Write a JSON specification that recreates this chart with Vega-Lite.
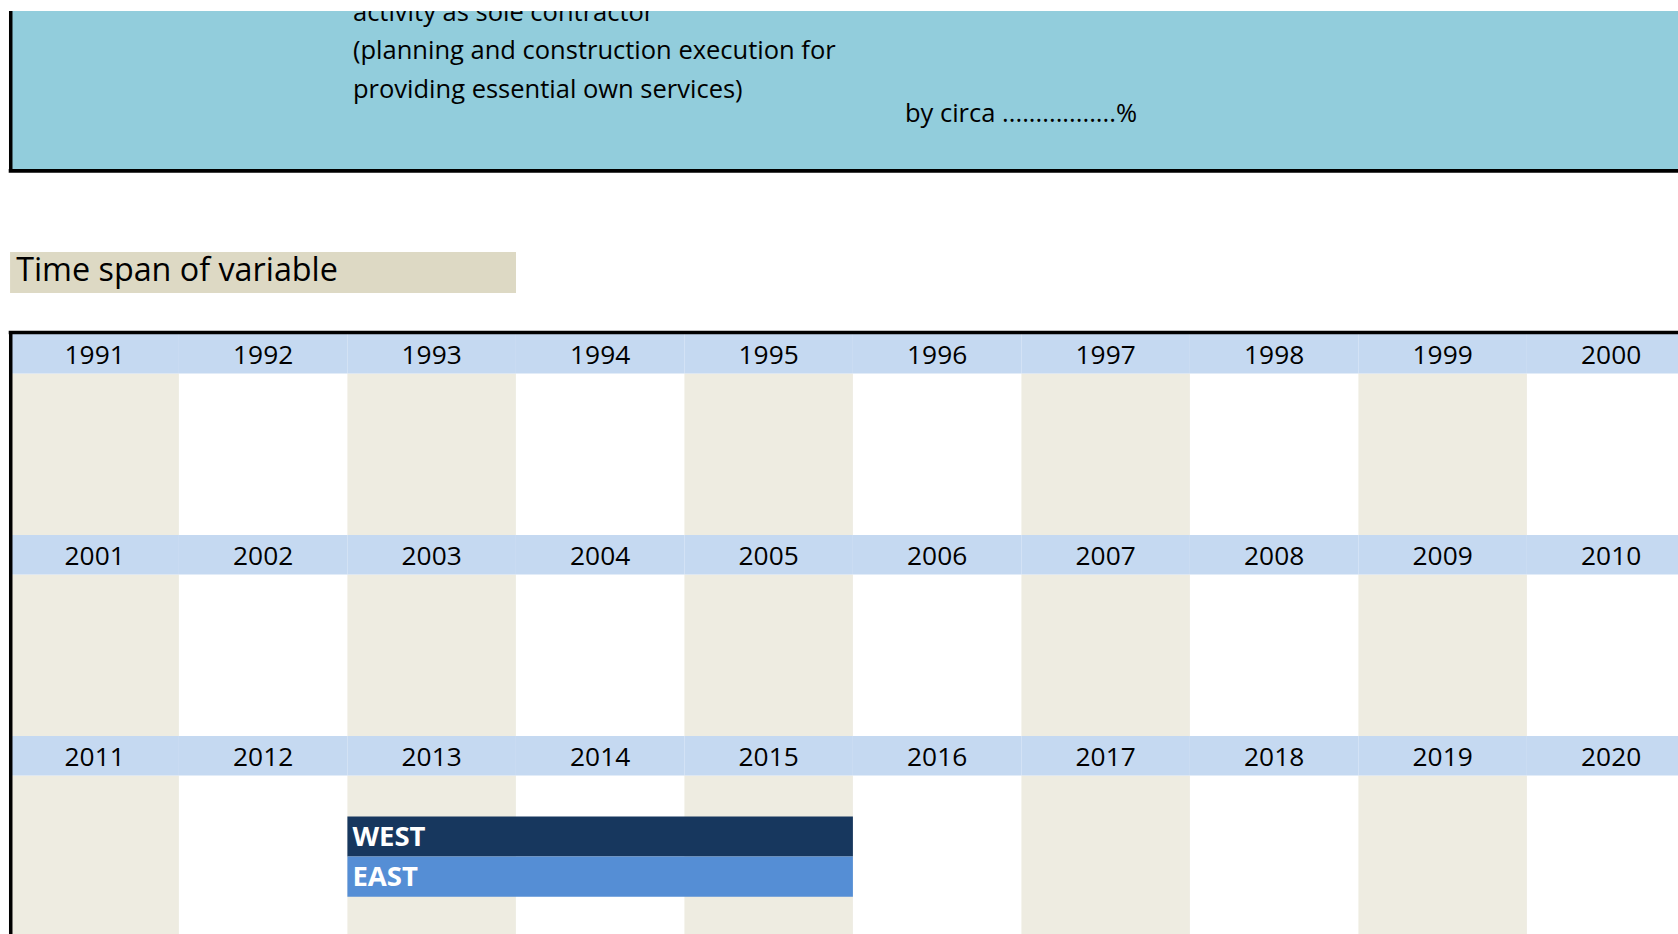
{
  "$schema": "https://vega.github.io/schema/vega-lite/v6.json",
  "width": 1678,
  "height": 934,
  "autosize": {"type": "fit", "contains": "padding"},
  "padding": {"top": 11, "left": 0, "right": 0, "bottom": 0},
  "background": "white",
  "config": {"view": {"stroke": null}, "font": "Open Sans"},
  "datasets": {
    "years": [
      {"year": 1991}, {"year": 1992}, {"year": 1993}, {"year": 1994}, {"year": 1995},
      {"year": 1996}, {"year": 1997}, {"year": 1998}, {"year": 1999}, {"year": 2000},
      {"year": 2001}, {"year": 2002}, {"year": 2003}, {"year": 2004}, {"year": 2005},
      {"year": 2006}, {"year": 2007}, {"year": 2008}, {"year": 2009}, {"year": 2010},
      {"year": 2011}, {"year": 2012}, {"year": 2013}, {"year": 2014}, {"year": 2015},
      {"year": 2016}, {"year": 2017}, {"year": 2018}, {"year": 2019}, {"year": 2020}
    ],
    "spans": [
      {"region": "WEST", "from": 2013, "to": 2015},
      {"region": "EAST", "from": 2013, "to": 2015}
    ],
    "note": [
      {"label": "activity as sole contractor\n(planning and construction execution for\nproviding essential own services)", "value": "by circa .................%", "title": "Time span of variable"}
    ]
  },
  "layer": [
    {
      "data": {"name": "note"},
      "mark": {"type": "rect", "color": "#92cddc", "clip": true},
      "encoding": {
        "x": {"datum": 0, "type": "quantitative", "scale": {"type": "linear", "domain": [-0.06172, 9.8967], "nice": false, "zero": false}, "axis": null},
        "x2": {"datum": 10.5},
        "y": {"datum": -1.7, "type": "quantitative", "scale": {"type": "linear", "domain": [-1.60697, 2.98507], "nice": false, "zero": false, "reverse": true}, "axis": null},
        "y2": {"datum": -0.8114}
      }
    },
    {
      "data": {"name": "note"},
      "mark": {"type": "text", "align": "left", "baseline": "top", "fontSize": 25.5, "lineBreak": "\n", "lineHeight": 38.4, "color": "black", "clip": true},
      "encoding": {
        "x": {"datum": 2.033, "type": "quantitative", "scale": {"type": "linear", "domain": [-0.06172, 9.8967], "nice": false, "zero": false}, "axis": null},
        "y": {"datum": -1.6567, "type": "quantitative", "scale": {"type": "linear", "domain": [-1.60697, 2.98507], "nice": false, "zero": false, "reverse": true}, "axis": null},
        "text": {"field": "label"}
      }
    },
    {
      "data": {"name": "note"},
      "mark": {"type": "text", "align": "left", "baseline": "alphabetic", "fontSize": 25.5, "color": "black"},
      "encoding": {
        "x": {"datum": 5.309, "type": "quantitative", "scale": {"type": "linear", "domain": [-0.06172, 9.8967], "nice": false, "zero": false}, "axis": null},
        "y": {"datum": -1.0572, "type": "quantitative", "scale": {"type": "linear", "domain": [-1.60697, 2.98507], "nice": false, "zero": false, "reverse": true}, "axis": null},
        "text": {"field": "value"}
      }
    },
    {
      "data": {"name": "note"},
      "mark": {"type": "rule", "color": "black", "strokeWidth": 3.6, "clip": true},
      "encoding": {
        "x": {"datum": -0.01, "type": "quantitative", "scale": {"type": "linear", "domain": [-0.06172, 9.8967], "nice": false, "zero": false}, "axis": null},
        "x2": {"datum": 10.5},
        "y": {"datum": -0.8114, "type": "quantitative", "scale": {"type": "linear", "domain": [-1.60697, 2.98507], "nice": false, "zero": false, "reverse": true}, "axis": null}
      }
    },
    {
      "data": {"name": "note"},
      "mark": {"type": "rule", "color": "black", "strokeWidth": 3.5, "clip": true},
      "encoding": {
        "x": {"datum": 0.002, "type": "quantitative", "scale": {"type": "linear", "domain": [-0.06172, 9.8967], "nice": false, "zero": false}, "axis": null},
        "y": {"datum": -1.7, "type": "quantitative", "scale": {"type": "linear", "domain": [-1.60697, 2.98507], "nice": false, "zero": false, "reverse": true}, "axis": null},
        "y2": {"datum": -0.8114}
      }
    },
    {
      "data": {"name": "note"},
      "mark": {"type": "rect", "color": "#ddd9c4"},
      "encoding": {
        "x": {"datum": -0.002, "type": "quantitative", "scale": {"type": "linear", "domain": [-0.06172, 9.8967], "nice": false, "zero": false}, "axis": null},
        "x2": {"datum": 3.0006},
        "y": {"datum": -0.408, "type": "quantitative", "scale": {"type": "linear", "domain": [-1.60697, 2.98507], "nice": false, "zero": false, "reverse": true}, "axis": null},
        "y2": {"datum": -0.204}
      }
    },
    {
      "data": {"name": "note"},
      "mark": {"type": "text", "align": "left", "baseline": "alphabetic", "fontSize": 32.3, "color": "black"},
      "encoding": {
        "x": {"datum": 0.034, "type": "quantitative", "scale": {"type": "linear", "domain": [-0.06172, 9.8967], "nice": false, "zero": false}, "axis": null},
        "y": {"datum": -0.2637, "type": "quantitative", "scale": {"type": "linear", "domain": [-1.60697, 2.98507], "nice": false, "zero": false, "reverse": true}, "axis": null},
        "text": {"field": "title"}
      }
    },
    {
      "data": {"name": "years"},
      "transform": [
        {"calculate": "(datum.year - 1991) % 10", "as": "col"},
        {"calculate": "floor((datum.year - 1991) / 10)", "as": "row"},
        {"filter": "datum.col % 2 == 0"},
        {"calculate": "datum.col + 1", "as": "col2"},
        {"calculate": "datum.row + 0.197", "as": "top"},
        {"calculate": "datum.row + 1", "as": "bottom"}
      ],
      "mark": {"type": "rect", "color": "#eeece1", "clip": true},
      "encoding": {
        "x": {"field": "col", "type": "quantitative", "scale": {"type": "linear", "domain": [-0.06172, 9.8967], "nice": false, "zero": false}, "axis": null},
        "x2": {"field": "col2"},
        "y": {"field": "top", "type": "quantitative", "scale": {"type": "linear", "domain": [-1.60697, 2.98507], "nice": false, "zero": false, "reverse": true}, "axis": null},
        "y2": {"field": "bottom"}
      }
    },
    {
      "data": {"name": "years"},
      "transform": [
        {"calculate": "(datum.year - 1991) % 10", "as": "col"},
        {"calculate": "floor((datum.year - 1991) / 10)", "as": "row"},
        {"calculate": "datum.col + 1", "as": "col2"},
        {"calculate": "datum.row + 0.197", "as": "bottom"}
      ],
      "mark": {"type": "rect", "color": "#c5d9f1", "clip": true},
      "encoding": {
        "x": {"field": "col", "type": "quantitative", "scale": {"type": "linear", "domain": [-0.06172, 9.8967], "nice": false, "zero": false}, "axis": null},
        "x2": {"field": "col2"},
        "y": {"field": "row", "type": "quantitative", "scale": {"type": "linear", "domain": [-1.60697, 2.98507], "nice": false, "zero": false, "reverse": true}, "axis": null},
        "y2": {"field": "bottom"}
      }
    },
    {
      "data": {"name": "years"},
      "transform": [
        {"calculate": "(datum.year - 1991) % 10 + 0.5", "as": "mid"},
        {"calculate": "floor((datum.year - 1991) / 10) + 0.148", "as": "base"}
      ],
      "mark": {"type": "text", "align": "center", "baseline": "alphabetic", "fontSize": 26.3, "color": "black", "clip": true},
      "encoding": {
        "x": {"field": "mid", "type": "quantitative", "scale": {"type": "linear", "domain": [-0.06172, 9.8967], "nice": false, "zero": false}, "axis": null},
        "y": {"field": "base", "type": "quantitative", "scale": {"type": "linear", "domain": [-1.60697, 2.98507], "nice": false, "zero": false, "reverse": true}, "axis": null},
        "text": {"field": "year", "type": "nominal"}
      }
    },
    {
      "data": {"name": "note"},
      "mark": {"type": "rule", "color": "black", "strokeWidth": 3.4, "clip": true},
      "encoding": {
        "x": {"datum": -0.01, "type": "quantitative", "scale": {"type": "linear", "domain": [-0.06172, 9.8967], "nice": false, "zero": false}, "axis": null},
        "x2": {"datum": 10.5},
        "y": {"datum": -0.0075, "type": "quantitative", "scale": {"type": "linear", "domain": [-1.60697, 2.98507], "nice": false, "zero": false, "reverse": true}, "axis": null}
      }
    },
    {
      "data": {"name": "note"},
      "mark": {"type": "rule", "color": "black", "strokeWidth": 3.5, "clip": true},
      "encoding": {
        "x": {"datum": 0.002, "type": "quantitative", "scale": {"type": "linear", "domain": [-0.06172, 9.8967], "nice": false, "zero": false}, "axis": null},
        "y": {"datum": -0.0155, "type": "quantitative", "scale": {"type": "linear", "domain": [-1.60697, 2.98507], "nice": false, "zero": false, "reverse": true}, "axis": null},
        "y2": {"datum": 3.2}
      }
    },
    {
      "data": {"name": "spans"},
      "transform": [
        {"window": [{"op": "row_number", "as": "lane"}]},
        {"calculate": "(datum.from - 1991) % 10", "as": "c1"},
        {"calculate": "(datum.to - 1991) % 10 + 1", "as": "c2"},
        {"calculate": "floor((datum.from - 1991) / 10) + 0.2 + 0.2 * datum.lane", "as": "top"},
        {"calculate": "datum.top + 0.2", "as": "bottom"}
      ],
      "mark": {"type": "rect", "clip": true},
      "encoding": {
        "x": {"field": "c1", "type": "quantitative", "scale": {"type": "linear", "domain": [-0.06172, 9.8967], "nice": false, "zero": false}, "axis": null},
        "x2": {"field": "c2"},
        "y": {"field": "top", "type": "quantitative", "scale": {"type": "linear", "domain": [-1.60697, 2.98507], "nice": false, "zero": false, "reverse": true}, "axis": null},
        "y2": {"field": "bottom"},
        "color": {"field": "region", "type": "nominal", "scale": {"domain": ["WEST", "EAST"], "range": ["#17375e", "#558ed5"]}, "legend": null}
      }
    },
    {
      "data": {"name": "spans"},
      "transform": [
        {"window": [{"op": "row_number", "as": "lane"}]},
        {"calculate": "(datum.from - 1991) % 10", "as": "c1"},
        {"calculate": "floor((datum.from - 1991) / 10) + 0.3 + 0.2 * datum.lane", "as": "mid"}
      ],
      "mark": {"type": "text", "align": "left", "baseline": "middle", "fontSize": 27.5, "fontWeight": "bold", "color": "white", "dx": 5, "dy": 1, "clip": true},
      "encoding": {
        "x": {"field": "c1", "type": "quantitative", "scale": {"type": "linear", "domain": [-0.06172, 9.8967], "nice": false, "zero": false}, "axis": null},
        "y": {"field": "mid", "type": "quantitative", "scale": {"type": "linear", "domain": [-1.60697, 2.98507], "nice": false, "zero": false, "reverse": true}, "axis": null},
        "text": {"field": "region", "type": "nominal"}
      }
    }
  ]
}
